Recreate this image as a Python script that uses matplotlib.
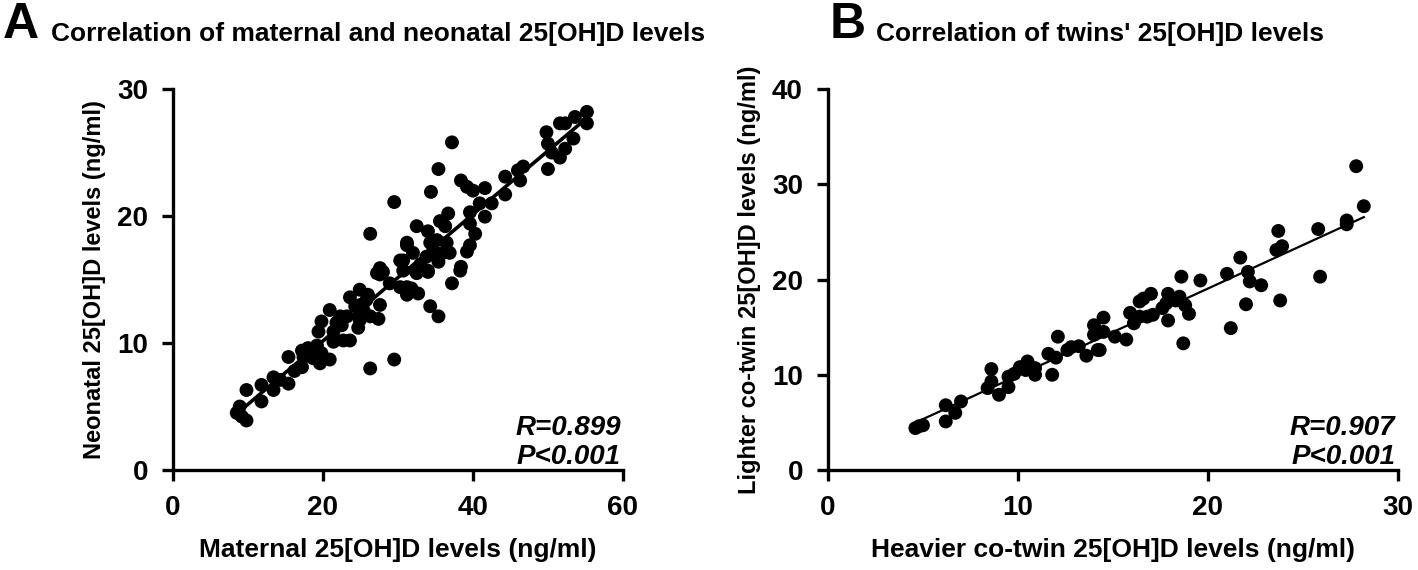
import numpy as np
import matplotlib
matplotlib.use("Agg")
from matplotlib import pyplot as plt

# panel A: maternal vs neonatal 25[OH]D (ng/ml)
mat_x = [8.9, 8.5, 9.8, 9.2, 9.8, 11.8, 11.8, 13.4, 13.4, 15.4, 14.3, 15.4,
         17.2, 17.4, 17.2, 18.0, 19.2, 18.7, 19.6, 20.9, 19.8, 19.4, 19.8,
         20.9, 21.4, 21.8, 22.3, 21.4, 22.7, 23.6, 23.6, 24.9, 24.3, 25.4,
         24.9, 24.7, 25.8, 23.2, 26.3, 26.3, 29.5, 27.4, 27.6, 27.6, 28.9,
         30.3, 31.2, 28.0, 29.5, 26.3, 27.6, 31.2, 30.3, 27.2, 31.2, 31.8,
         32.7, 30.7, 32.5, 34.0, 38.3, 37.2, 34.3, 35.4, 37.2, 35.4, 34.4,
         38.4, 39.2, 40.0, 41.6, 44.3, 44.3, 46.0, 46.7, 46.3, 49.8, 50.0,
         50.0, 51.6, 52.3, 53.6, 55.2, 55.2, 53.4, 52.3, 51.6, 50.5, 40.9,
         39.6, 41.6, 39.6, 40.3, 39.6, 39.2, 38.4, 36.7, 35.6, 36.3, 32.5,
         34.0, 31.2, 34.3, 35.2, 36.5, 34.7, 36.0, 36.9, 33.8, 32.0, 30.7,
         32.3, 34.0, 35.4, 25.0, 26.0, 22.5, 16.2, 33.0, 42.5]
neo_y = [5.0, 4.5, 3.9, 4.2, 6.3, 5.4, 6.7, 7.3, 6.3, 6.8, 7.1, 8.9,
         9.4, 8.9, 8.1, 9.6, 9.8, 8.8, 8.4, 8.7, 9.2, 10.9, 11.7,
         12.6, 10.9, 11.6, 12.1, 10.1, 10.2, 10.2, 13.6, 14.2, 12.9, 12.6,
         11.8, 11.2, 13.4, 12.1, 12.1, 8.0, 8.7, 11.9, 13.0, 15.4, 14.7,
         14.4, 13.8, 15.6, 21.1, 18.6, 15.9, 17.7, 16.5, 15.5, 14.4, 14.3,
         13.9, 15.7, 15.5, 15.6, 15.7, 14.7, 12.9, 12.1, 25.8, 23.7, 21.9,
         22.8, 22.3, 22.0, 22.2, 23.1, 21.7, 23.6, 23.9, 22.8, 26.6, 25.7,
         23.7, 27.3, 27.3, 27.8, 28.2, 27.3, 26.1, 25.3, 24.6, 25.0, 21.0,
         20.3, 19.95, 19.4, 18.6, 17.7, 17.2, 16.0, 20.2, 19.6, 19.2, 19.2,
         18.8, 17.9, 17.9, 18.1, 17.9, 17.3, 17.1, 17.1, 16.8, 17.1, 16.5,
         15.7, 15.7, 16.4, 13.0, 13.8, 11.4, 7.8, 16.2, 21.0]

# panel B: heavier vs lighter co-twin 25[OH]D (ng/ml)
heavy_x = [4.6, 5.0, 4.8, 6.2, 6.2, 6.7, 7.0, 8.4, 8.6, 8.6, 9.0, 9.5, 9.5,
           9.8, 10.1, 10.5, 10.9, 10.9, 10.4, 11.6, 12.0, 12.1, 11.8, 12.6,
           12.8, 13.2, 13.6, 14.2, 14.0, 14.5, 14.0, 14.5, 15.1, 15.7, 14.3,
           15.9, 16.1, 16.4, 16.8, 17.1, 16.4, 16.6, 17.0, 17.9, 18.5, 17.8,
           18.3, 18.8, 19.0, 17.9, 17.6, 18.7, 21.2, 22.0, 23.8, 22.2, 22.8,
           18.6, 19.6, 21.0, 22.1, 25.9, 21.7, 23.9, 23.6, 23.7, 25.8, 27.3,
           27.3, 28.2, 27.8]
light_y = [4.4, 4.7, 4.6, 5.1, 6.8, 6.0, 7.2, 8.6, 9.3, 10.6, 7.9, 8.7, 9.8,
           10.1, 10.8, 11.4, 10.7, 10.0, 10.5, 12.2, 11.8, 14.0, 10.0, 12.6,
           12.9, 13.0, 12.0, 12.6, 15.2, 16.0, 14.2, 14.5, 14.0, 13.7, 12.6,
           16.5, 15.4, 16.1, 16.1, 16.3, 17.7, 18.0, 18.5, 18.5, 18.2, 17.5,
           17.8, 17.3, 16.4, 15.7, 17.0, 13.3, 14.9, 17.4, 17.8, 19.8, 19.4,
           20.3, 19.9, 20.6, 20.8, 20.3, 22.3, 23.5, 23.1, 25.1, 25.3, 26.2,
           25.8, 27.7, 31.9]

plt.rcParams['font.family'] = ['Liberation Sans', 'DejaVu Sans']
plt.rcParams['font.weight'] = 'bold'

fig = plt.figure(figsize=(14.18, 5.7), dpi=100)
axA = fig.add_axes([0.122, 0.1754, 0.3173, 0.6684])
axB = fig.add_axes([0.5839, 0.1754, 0.402, 0.6684])


def style(ax, xlim, ylim, xt, yt):
    ax.set_xlim(*xlim)
    ax.set_ylim(*ylim)
    ax.set_xticks(xt)
    ax.set_yticks(yt)
    ax.spines['top'].set_visible(False)
    ax.spines['right'].set_visible(False)
    for s in ['left', 'bottom']:
        ax.spines[s].set_linewidth(2.4)
    ax.tick_params(direction='out', length=8, width=2.4, labelsize=20, pad=10)
    for lab in ax.get_xticklabels() + ax.get_yticklabels():
        lab.set_fontweight('bold')


def scatter_fit(ax, x, y, lw):
    x = np.array(x)
    y = np.array(y)
    ax.scatter(x, y, s=100, color='black', edgecolors='none', zorder=3, clip_on=False)
    k, b = np.polyfit(x, y, 1)
    xs = np.array([x.min(), x.max()])
    ax.plot(xs, k * xs + b, color='black', lw=lw, zorder=2)


def stats(ax, r):
    ax.text(0.995, 0.11, 'R=' + r, transform=ax.transAxes, ha='right', va='center',
            fontsize=20, fontweight='bold', style='italic')
    ax.text(0.995, 0.035, 'P<0.001', transform=ax.transAxes, ha='right', va='center',
            fontsize=20, fontweight='bold', style='italic')


scatter_fit(axA, mat_x, neo_y, 2.6)
style(axA, (0, 60), (0, 30), [0, 20, 40, 60], [0, 10, 20, 30])
axA.set_xlabel('Maternal 25[OH]D levels (ng/ml)', fontsize=19, fontweight='bold', labelpad=12)
axA.set_ylabel('Neonatal 25[OH]D levels (ng/ml)', fontsize=17, fontweight='bold', labelpad=8)
stats(axA, '0.899')

scatter_fit(axB, heavy_x, light_y, 1.6)
style(axB, (0, 30), (0, 40), [0, 10, 20, 30], [0, 10, 20, 30, 40])
axB.set_xlabel('Heavier co-twin 25[OH]D levels (ng/ml)', fontsize=19, fontweight='bold', labelpad=12)
axB.set_ylabel('Lighter co-twin 25[OH]D levels (ng/ml)', fontsize=17, fontweight='bold', labelpad=8)
stats(axB, '0.907')

fig.text(0.002, 0.933, 'A', fontsize=36, fontweight='bold', va='baseline')
fig.text(0.036, 0.94, 'Correlation of maternal and neonatal 25[OH]D levels',
         fontsize=19, fontweight='bold', va='center')
fig.text(0.585, 0.933, 'B', fontsize=36, fontweight='bold', va='baseline')
fig.text(0.618, 0.94, "Correlation of twins' 25[OH]D levels",
         fontsize=19, fontweight='bold', va='center')

fig.savefig('out.png', dpi=100)
